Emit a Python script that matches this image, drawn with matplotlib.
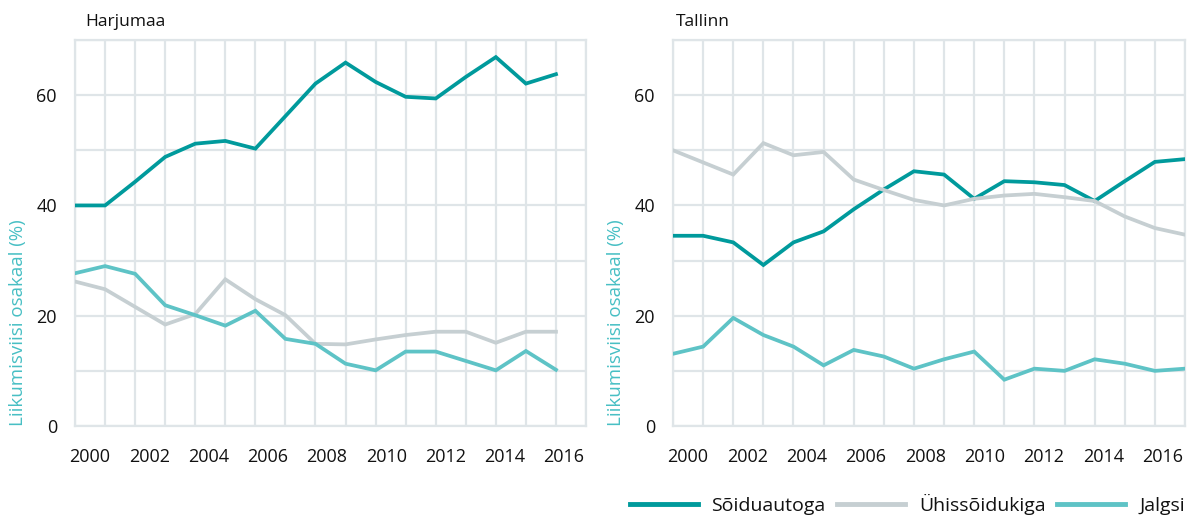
import numpy as np
import matplotlib.pyplot as plt
from matplotlib.ticker import MultipleLocator, FixedLocator

plt.rcParams['font.family'] = ['Open Sans', 'DejaVu Sans']

# Harjumaa, 2000-2016
years_h = list(range(2000, 2017))
car_h = [40, 40, 44.3, 48.8, 51.2, 51.7, 50.3, 56.2, 62.1, 65.9, 62.4, 59.7, 59.4, 63.3, 66.9, 62.1, 63.8]
bus_h = [26.2, 24.8, 21.6, 18.4, 20.3, 26.6, 23.0, 20.1, 14.9, 14.8, 15.7, 16.5, 17.1, 17.1, 15.1, 17.1, 17.1]
walk_h = [27.7, 29.0, 27.6, 21.9, 20.1, 18.2, 20.9, 15.8, 14.9, 11.3, 10.1, 13.5, 13.5, 11.8, 10.1, 13.6, 10.2]

# Tallinn, 2000-2017
years_t = list(range(2000, 2018))
car_t = [34.5, 34.5, 33.3, 29.2, 33.3, 35.3, 39.3, 42.9, 46.2, 45.6, 41.2, 44.4, 44.2, 43.7, 40.8, 44.4, 47.9, 48.4]
bus_t = [50.0, 47.8, 45.6, 51.3, 49.1, 49.7, 44.7, 42.8, 41.0, 40.0, 41.2, 41.8, 42.1, 41.5, 40.8, 38.0, 35.9, 34.7]
walk_t = [13.1, 14.4, 19.6, 16.5, 14.4, 11.0, 13.8, 12.6, 10.4, 12.1, 13.5, 8.4, 10.4, 10.0, 12.1, 11.3, 10.0, 10.4]

labels = ['Sõiduautoga', 'Ühissõidukiga', 'Jalgsi']
colors = ['#009a9c', '#c6cfd2', '#5ec3c6']
tick_years = list(range(2000, 2017, 2))
grid_c = '#dfe5e8'
text_c = '#111111'

fig = plt.figure(figsize=(11.87, 5.15), dpi=100)
ax1 = fig.add_axes([0.0632, 0.1728, 0.4305, 0.7495])
ax2 = fig.add_axes([0.567, 0.1728, 0.4313, 0.7495])

panels = [(ax1, 'Harjumaa', years_h, [car_h, bus_h, walk_h], 0.02),
          (ax2, 'Tallinn', years_t, [car_t, bus_t, walk_t], 0.006)]

# labels sit a little right of the year gridline, drifting left towards 2016
tick_pos = [y + 0.5 - (y - 2000) * 0.015 for y in tick_years]

handles = []
for ax, title, yrs, series, tx in panels:
    for vals, c, lab in zip(series, colors, labels):
        ln, = ax.plot(yrs, vals, color=c, lw=2.7, label=lab, solid_joinstyle='miter', zorder=3)
        if ax is ax1:
            handles.append(ln)
    ax.set_xlim(2000, 2017)
    ax.set_ylim(0, 70)
    ax.xaxis.set_major_locator(FixedLocator(tick_pos))
    ax.set_xticklabels([str(y) for y in tick_years])
    ax.xaxis.set_minor_locator(MultipleLocator(1))
    ax.yaxis.set_major_locator(MultipleLocator(20))
    ax.yaxis.set_minor_locator(MultipleLocator(10))
    ax.grid(False)
    ax.grid(which='minor', color=grid_c, lw=1.6, zorder=0)
    ax.grid(which='major', axis='y', color=grid_c, lw=1.6, zorder=0)
    ax.tick_params(which='both', length=0)
    ax.tick_params(axis='x', pad=16, labelsize=13, colors=text_c)
    ax.tick_params(axis='y', pad=13, labelsize=13, colors=text_c)
    for s in ax.spines.values():
        s.set_color(grid_c)
        s.set_linewidth(1.6)
    ax.set_ylabel('Liikumisviisi osakaal (%)', color='#47bfc4', fontsize=13.5, loc='bottom')
    ax.yaxis.set_label_coords(-0.094, 0.0)
    ax.text(tx, 1.047, title, transform=ax.transAxes, fontsize=12.5, va='center', ha='left', color=text_c)

fig.legend(handles=handles, loc='center right', bbox_to_anchor=(0.998, 0.02), ncol=3,
           frameon=False, fontsize=14, handlelength=3.5, handletextpad=0.7, columnspacing=0.6,
           borderaxespad=0, borderpad=0, labelcolor=text_c)
for h in fig.legends[0].get_lines():
    h.set_linewidth(3.5)

fig.savefig('out.png', dpi=100)
